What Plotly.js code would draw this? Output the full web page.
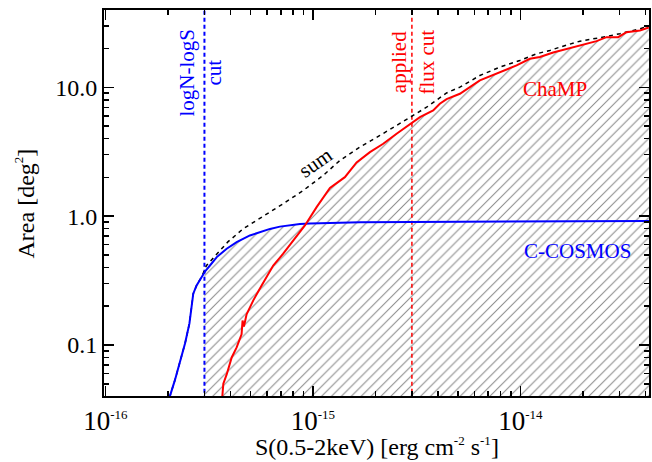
<!DOCTYPE html>
<html>
<head>
<meta charset="utf-8">
<script src="https://cdn.plot.ly/plotly-3.0.1.min.js"></script>
<style>
  html, body { margin: 0; padding: 0; background: #ffffff; }
  #chart { width: 652px; height: 462px; }
</style>
</head>
<body>
<div id="chart"></div>
<script>
// Survey area versus 0.5-2 keV flux limit (erg cm^-2 s^-1 -> deg^2)

// C-COSMOS sky coverage
const cosmosFlux = [2.02e-16, 2.05e-16, 2.16e-16, 2.29e-16, 2.42e-16, 2.54e-16, 2.60e-16, 2.65e-16,
  2.75e-16, 2.91e-16, 3.02e-16, 3.19e-16, 3.44e-16, 3.84e-16, 4.29e-16, 4.97e-16, 5.55e-16,
  6.21e-16, 6.93e-16, 7.74e-16, 8.66e-16, 9.68e-16, 1.208e-15, 1.69e-15, 3.03e-15, 1.0e-14, 4.22e-14];
const cosmosArea = [0.0394, 0.0406, 0.0531, 0.0759, 0.103, 0.147, 0.197, 0.250,
  0.290, 0.336, 0.372, 0.414, 0.481, 0.558, 0.628, 0.708, 0.754,
  0.796, 0.829, 0.853, 0.868, 0.878, 0.889, 0.898, 0.902, 0.910, 0.915];

// ChaMP sky coverage
const champFlux = [3.64e-16, 3.70e-16, 3.84e-16, 4.06e-16, 4.29e-16, 4.53e-16, 4.58e-16, 4.65e-16,
  4.79e-16, 5.16e-16, 5.66e-16, 6.09e-16, 6.44e-16, 7.19e-16, 8.04e-16, 9.15e-16, 1.042e-15,
  1.208e-15, 1.426e-15, 1.624e-15, 1.883e-15, 2.182e-15, 2.531e-15, 2.99e-15, 3.28e-15, 3.80e-15,
  4.09e-15, 4.41e-15, 5.11e-15, 6.38e-15, 7.68e-15, 9.59e-15, 1.111e-14, 1.242e-14, 1.439e-14,
  1.608e-14, 1.935e-14, 2.329e-14, 2.60e-14, 2.96e-14, 3.25e-14, 3.77e-14, 4.16e-14];
const champArea = [0.036, 0.050, 0.0591, 0.080, 0.0957, 0.121, 0.155, 0.139,
  0.173, 0.222, 0.290, 0.357, 0.414, 0.511, 0.648, 0.847, 1.175,
  1.655, 2.007, 2.611, 3.138, 3.646, 4.36, 5.27, 5.87, 6.61,
  7.45, 8.10, 8.91, 11.31, 12.74, 14.78, 16.66, 17.20, 18.65,
  19.56, 21.13, 22.81, 24.50, 24.50, 26.79, 27.62, 29.14];

// Combined coverage ("sum")
const sumFlux = [2.02e-16, 2.05e-16, 2.16e-16, 2.29e-16, 2.42e-16, 2.54e-16, 2.60e-16, 2.65e-16,
  2.75e-16, 2.91e-16, 3.07e-16, 3.44e-16, 3.89e-16, 4.61e-16, 5.36e-16, 5.98e-16, 7.19e-16,
  8.98e-16, 1.121e-15, 1.349e-15, 1.684e-15, 2.104e-15, 2.625e-15, 3.042e-15, 3.532e-15,
  4.41e-15, 5.11e-15, 6.38e-15, 7.96e-15, 9.94e-15, 1.197e-14, 1.387e-14, 1.549e-14,
  1.935e-14, 2.415e-14, 3.016e-14, 3.77e-14, 4.16e-14];
const sumArea = [0.0394, 0.0406, 0.0531, 0.0759, 0.103, 0.147, 0.197, 0.250,
  0.290, 0.338, 0.414, 0.511, 0.631, 0.798, 0.926, 1.031, 1.248,
  1.583, 2.07, 2.706, 3.432, 4.23, 5.21, 6.05, 7.01,
  9.04, 10.03, 12.36, 14.33, 16.16, 18.21, 19.32, 20.49,
  22.81, 24.25, 26.04, 28.47, 29.93];

// Flux cuts: logN-logS cut and applied flux cut
const cutFlux = [3e-16, 3e-15];

// Axis ticks
const xTickVals = [1e-16, 1e-15, 1e-14];
const xTickText = ["10<sup><span style='font-size:13px'>-16</span></sup>",
                   "10<sup><span style='font-size:13px'>-15</span></sup>",
                   "10<sup><span style='font-size:13px'>-14</span></sup>"];
const xMinorVals = [2e-16, 3e-16, 4e-16, 5e-16, 6e-16, 7e-16, 8e-16, 9e-16,
                    2e-15, 3e-15, 4e-15, 5e-15, 6e-15, 7e-15, 8e-15, 9e-15,
                    2e-14, 3e-14, 4e-14];
const yTickVals = [0.1, 1, 10];
const yTickText = ["0.1", "1.0", "10.0"];
const yMinorVals = [0.05, 0.06, 0.07, 0.08, 0.09, 0.2, 0.3, 0.4, 0.5, 0.6, 0.7, 0.8, 0.9,
                    2, 3, 4, 5, 6, 7, 8, 9, 20, 30];

// log-log interpolation; 0 outside the left end of a curve
function interpLog(xs, ys, x) {
  if (x < xs[0]) return 0;
  if (x >= xs[xs.length - 1]) return ys[ys.length - 1];
  for (let i = 0; i < xs.length - 1; i++) {
    if (x >= xs[i] && x <= xs[i + 1]) {
      const t = (Math.log(x) - Math.log(xs[i])) / (Math.log(xs[i + 1]) - Math.log(xs[i]));
      return Math.exp(Math.log(ys[i]) + t * (Math.log(ys[i + 1]) - Math.log(ys[i])));
    }
  }
  return 0;
}

// Hatched region: upper envelope of the two surveys above the logN-logS cut
const gridSet = new Set([cutFlux[0]]);
cosmosFlux.concat(champFlux).forEach(s => { if (s >= cutFlux[0]) gridSet.add(s); });
const hatchX = Array.from(gridSet).sort((a, b) => a - b);
const hatchY = hatchX.map(s => Math.max(interpLog(cosmosFlux, cosmosArea, s), interpLog(champFlux, champArea, s)));
const floorArea = 1e-3;
const polyX = hatchX.concat([hatchX[hatchX.length - 1], hatchX[0]]);
const polyY = hatchY.concat([floorArea, floorArea]);

const traces = [
  {
    x: polyX, y: polyY, type: 'scatter', mode: 'lines', fill: 'toself',
    line: { width: 0, color: 'rgba(0,0,0,0)' },
    fillcolor: 'rgba(0,0,0,0)',
    fillpattern: { shape: '/', fgcolor: '#8a8a8a', bgcolor: 'rgba(255,255,255,0)', size: 7, solidity: 0.15 },
    hoverinfo: 'skip'
  },
  {
    x: [cutFlux[0], cutFlux[0]], y: [floorArea, 1e3], type: 'scatter', mode: 'lines',
    line: { color: '#0000ff', width: 2, dash: '4px,3px' }, hoverinfo: 'skip'
  },
  {
    x: [cutFlux[1], cutFlux[1]], y: [floorArea, 1e3], type: 'scatter', mode: 'lines',
    line: { color: '#ff0000', width: 1.5, dash: '4px,3px' }, hoverinfo: 'skip'
  },
  {
    x: sumFlux, y: sumArea, type: 'scatter', mode: 'lines',
    line: { color: '#000000', width: 1.5, dash: '4px,4px' }
  },
  {
    x: cosmosFlux, y: cosmosArea, type: 'scatter', mode: 'lines',
    line: { color: '#0000ff', width: 2 }
  },
  {
    x: champFlux, y: champArea, type: 'scatter', mode: 'lines',
    line: { color: '#ff0000', width: 2 }
  }
];

const serif = '"Liberation Serif", "Times New Roman", Times, serif';

const layout = {
  width: 652, height: 462,
  margin: { l: 104, r: 3, t: 10, b: 66 },
  paper_bgcolor: '#ffffff', plot_bgcolor: '#ffffff',
  showlegend: false,
  font: { family: serif, color: '#000000', size: 24 },
  xaxis: {
    type: 'log', range: [-16.007, -13.38],
    showgrid: false, zeroline: false,
    showline: true, linecolor: '#000000', linewidth: 2, mirror: 'ticks',
    ticks: 'inside', ticklen: 10, tickwidth: 1.5, tickcolor: '#000000',
    tickmode: 'array', tickvals: xTickVals, ticktext: xTickText,
    tickfont: { family: serif, size: 27, color: '#000000' },
    minor: { tickmode: 'array', tickvals: xMinorVals, ticks: 'inside', ticklen: 5, tickwidth: 1.5, tickcolor: '#000000', showgrid: false }
  },
  yaxis: {
    type: 'log', range: [-1.396, 1.6],
    showgrid: false, zeroline: false,
    showline: true, linecolor: '#000000', linewidth: 2, mirror: 'ticks',
    ticks: 'inside', ticklen: 10, tickwidth: 1.5, tickcolor: '#000000',
    tickmode: 'array', tickvals: yTickVals, ticktext: yTickText,
    tickfont: { family: serif, size: 24, color: '#000000' },
    minor: { tickmode: 'array', tickvals: yMinorVals, ticks: 'inside', ticklen: 5, tickwidth: 1.5, tickcolor: '#000000', showgrid: false }
  },
  annotations: [
    { text: "S(0.5-2keV) [erg cm<sup><span style='font-size:13px'>-2</span></sup> s<sup><span style='font-size:13px'>-1</span></sup>]",
      xref: 'paper', yref: 'paper', x: 0.5, y: -0.13, xanchor: 'center', yanchor: 'middle',
      showarrow: false, font: { family: serif, size: 24, color: '#000000' } },
    { text: "Area [deg<sup><span style='font-size:13px'>2</span></sup>]",
      xref: 'paper', yref: 'paper', x: -0.145, y: 0.4987, xanchor: 'center', yanchor: 'middle',
      textangle: -90, showarrow: false, font: { family: serif, size: 24, color: '#000000' } },
    { text: 'logN-logS<br>cut', xref: 'paper', yref: 'paper', x: 0.1771, y: 0.8368,
      xanchor: 'center', yanchor: 'middle', textangle: -90, showarrow: false,
      font: { family: serif, size: 21, color: '#0000ff' } },
    { text: 'applied<br>flux cut', xref: 'paper', yref: 'paper', x: 0.566, y: 0.865,
      xanchor: 'center', yanchor: 'middle', textangle: -90, showarrow: false,
      font: { family: serif, size: 21, color: '#ff0000' } },
    { text: 'sum', xref: 'paper', yref: 'paper', x: 0.3872, y: 0.6036,
      xanchor: 'center', yanchor: 'middle', textangle: -35, showarrow: false,
      font: { family: serif, size: 21, color: '#000000' } },
    { text: 'ChaMP', xref: 'paper', yref: 'paper', x: 0.8284, y: 0.7953,
      xanchor: 'center', yanchor: 'middle', showarrow: false,
      font: { family: serif, size: 21, color: '#ff0000' } },
    { text: 'C-COSMOS', xref: 'paper', yref: 'paper', x: 0.8688, y: 0.3756,
      xanchor: 'center', yanchor: 'middle', showarrow: false,
      font: { family: serif, size: 21, color: '#0000ff' } }
  ]
};

Plotly.newPlot('chart', traces, layout, { staticPlot: true, displayModeBar: false });
</script>
</body>
</html>
